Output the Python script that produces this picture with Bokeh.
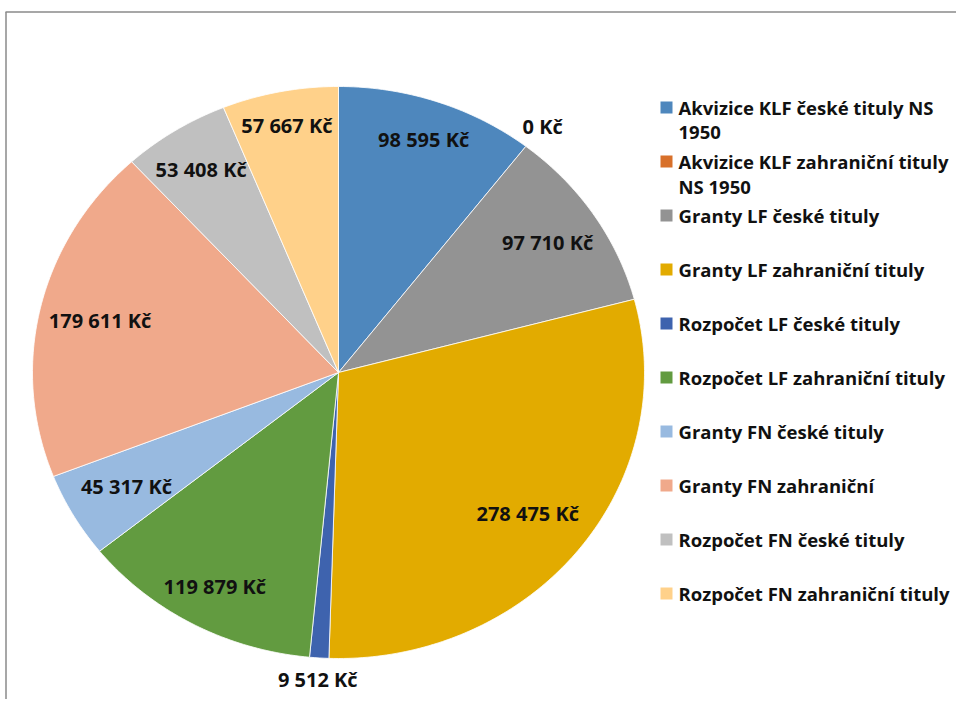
import math
from bokeh.plotting import figure
from bokeh.models import Range1d
from bokeh.core.properties import value
from bokeh.embed import file_html
from bokeh.resources import INLINE

# ---- data ----
categories = [
    "Akvizice KLF české tituly NS\n1950",
    "Akvizice  KLF zahraniční tituly\nNS 1950",
    "Granty LF české tituly",
    "Granty LF zahraniční tituly",
    "Rozpočet LF české tituly",
    "Rozpočet LF zahraniční tituly",
    "Granty FN české tituly",
    "Granty FN zahraniční",
    "Rozpočet FN české tituly",
    "Rozpočet FN zahraniční tituly",
]
amounts = [98595, 0, 97710, 278475, 9512, 119879, 45317, 179611, 53408, 57667]
colors = ["#4E87BD", "#D8702A", "#939393", "#E2AB00", "#3E63AE",
          "#629B40", "#98BAE0", "#F0A98B", "#C0C0C0", "#FFD18A"]

# ---- layout / style (picture pixel coordinates) ----
W, H = 956, 699
CX, CY, RX, RY = 338, 372, 306, 286
label_r = [0.86, 1.09, 0.82, 0.79, 1.075, 0.85, 0.80, 0.80, 0.84, 0.88]
FONT = "Open Sans"

p = figure(width=W, height=H, output_backend="svg", toolbar_location=None,
           x_range=Range1d(0, W), y_range=Range1d(H, 0),
           min_border=0, outline_line_color=None)
p.axis.visible = False
p.grid.visible = False
p.background_fill_color = "white"

total = float(sum(amounts))

def pt(frac, r=1.0):
    a = 2 * math.pi * frac
    return CX + RX * r * math.sin(a), CY - RY * r * math.cos(a)

xs, ys, cols = [], [], []
lx, ly, ltxt = [], [], []
cum = 0.0
for i, v in enumerate(amounts):
    f0 = cum / total
    cum += v
    f1 = cum / total
    n = max(2, int((f1 - f0) * 400))
    px, py = [CX], [CY]
    for k in range(n + 1):
        x, y = pt(f0 + (f1 - f0) * k / n)
        px.append(x); py.append(y)
    if v > 0:
        xs.append(px); ys.append(py); cols.append(colors[i])
    mx, my = pt((f0 + f1) / 2, label_r[i])
    lx.append(mx); ly.append(my)
    ltxt.append(f"{v:,}".replace(",", " ") + " Kč")

p.patches(xs, ys, fill_color=cols, line_color="white", line_width=0.8)
p.text(lx, ly, text=ltxt, text_align="center", text_baseline="middle",
       text_font=value(FONT), text_font_style="bold", text_font_size="20px",
       text_color="#111111")

# legend (manual)
sq_x, sq_y, tx, ty, tt = [], [], [], [], []
for i, c in enumerate(categories):
    y0 = 107 + 54 * i
    sq_x.append(666); sq_y.append(y0)
    for j, line in enumerate(c.split("\n")):
        tx.append(678); ty.append(y0 + 24.5 * j); tt.append(line)
p.rect(sq_x, sq_y, width=12, height=12, fill_color=colors, line_color=None)
p.text(tx, ty, text=tt, text_align="left", text_baseline="middle",
       text_font=value(FONT), text_font_style="bold", text_font_size="18.5px",
       text_color="#111111")

# chart frame (top and left edges)
p.line([5, W], [11.5, 11.5], line_color="#8A8A8A", line_width=1.5)
p.line([5.5, 5.5], [11.5, H], line_color="#8A8A8A", line_width=1.5)

open("out.html", "w").write(file_html(p, INLINE))
